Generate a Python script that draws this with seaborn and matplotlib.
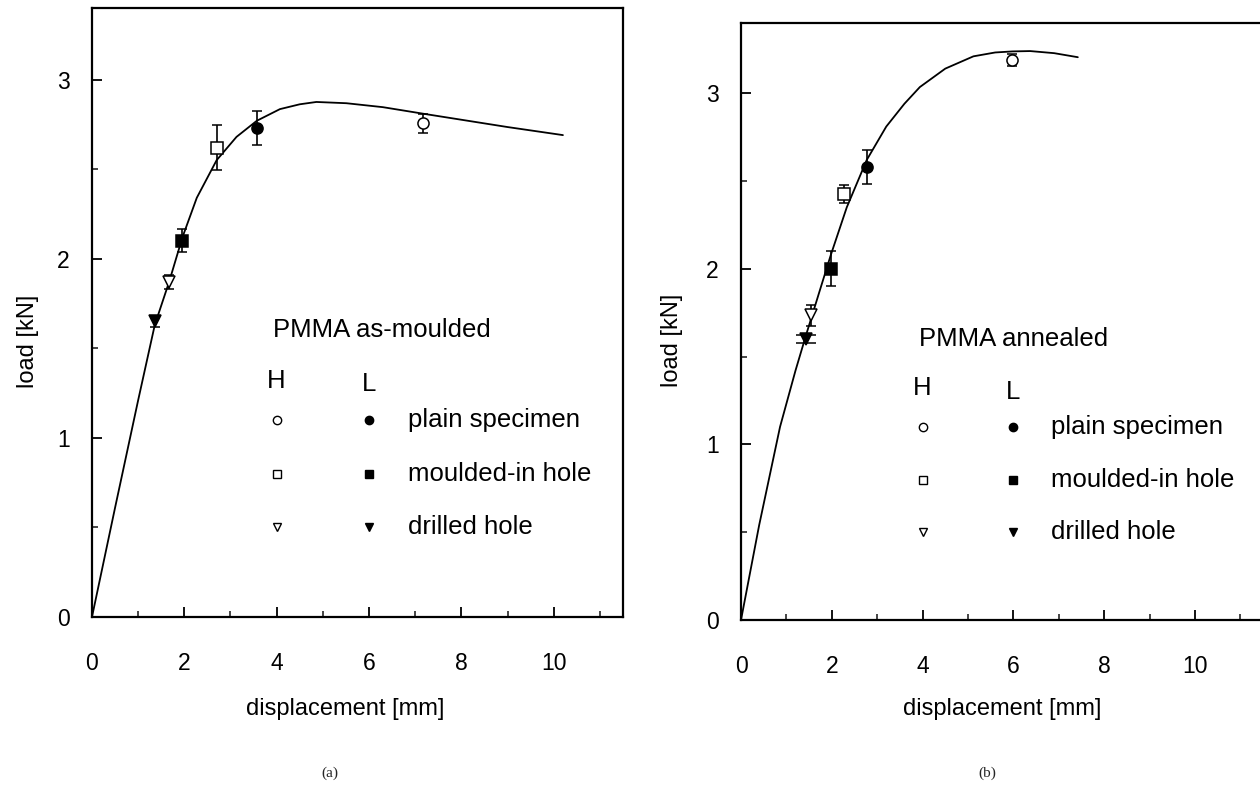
import matplotlib
matplotlib.use("Agg")
import matplotlib.pyplot as plt
import seaborn as sns
import pandas as pd
from matplotlib.ticker import MultipleLocator

sns.set_theme(style="ticks")
plt.rcParams['font.family'] = ['Liberation Sans', 'DejaVu Sans']

# ---------------- data ----------------
specimen_types = ["plain", "plain", "moulded", "moulded", "drilled", "drilled"]
specimen_groups = ["H", "L", "H", "L", "H", "L"]
legend_labels = ["plain specimen", "moulded-in hole", "drilled hole"]

# (a) PMMA as-moulded
curve_a_x = [0, 0.5, 1.0, 1.36, 1.67, 1.96, 2.27, 2.70, 3.13, 3.57, 4.07, 4.50, 4.86, 5.51, 6.30, 7.16, 7.97, 9.0, 10.2]
curve_a_y = [0, 0.61, 1.21, 1.63, 1.87, 2.12, 2.34, 2.55, 2.68, 2.77, 2.835, 2.862, 2.875, 2.868, 2.846, 2.81, 2.777, 2.735, 2.69]
pts_a_x = [7.16, 3.57, 2.70, 1.96, 1.67, 1.36]
pts_a_y = [2.755, 2.73, 2.62, 2.10, 1.87, 1.65]
pts_a_err = [0.055, 0.095, 0.125, 0.065, 0.04, 0.03]

# (b) PMMA annealed
curve_b_x = [0, 0.4, 0.86, 1.2, 1.43, 1.74, 1.98, 2.33, 2.77, 3.2, 3.6, 3.94, 4.5, 5.12, 5.6, 5.98, 6.37, 6.9, 7.42]
curve_b_y = [0, 0.54, 1.10, 1.42, 1.62, 1.88, 2.08, 2.35, 2.62, 2.81, 2.94, 3.035, 3.14, 3.21, 3.232, 3.238, 3.24, 3.228, 3.205]
pts_b_x = [5.98, 2.77, 2.27, 1.98, 1.535, 1.43]
pts_b_y = [3.19, 2.58, 2.425, 2.00, 1.736, 1.60]
pts_b_err = [0.035, 0.095, 0.05, 0.10, 0.06, 0.025]

x_ticks = [0, 2, 4, 6, 8, 10]
y_ticks = [0, 1, 2, 3]

# ---------------- styles ----------------
marker_of = {"plain": "o", "moulded": "s", "drilled": "v"}
size_of = {"plain": 8, "moulded": 8.5, "drilled": 8}
LEG_FS = 18.5
LAB_FS = 17
TICK_FS = 16.5


def draw_panel(ax, cx, cy, px, py, perr, title, wide_cap_idx=None):
    sns.lineplot(x=cx, y=cy, ax=ax, color="black", lw=1.3, sort=False, estimator=None)
    for i, (x, y, e) in enumerate(zip(px, py, perr)):
        t = specimen_types[i]
        g = specimen_groups[i]
        face = "white" if g == "H" else "black"
        cap = 7 if (wide_cap_idx is not None and i == wide_cap_idx) else 3.8
        ax.errorbar(x, y, yerr=e, fmt=marker_of[t], mfc=face, mec="black",
                    ms=size_of[t], mew=1.1, ecolor="black", elinewidth=1.2,
                    capsize=cap, capthick=1.2, zorder=3)
    ax.set_xlim(0, 11.5)
    ax.set_ylim(0, 3.4)
    ax.set_xticks(x_ticks)
    ax.set_yticks(y_ticks)
    ax.xaxis.set_minor_locator(MultipleLocator(1))
    ax.yaxis.set_minor_locator(MultipleLocator(0.5))
    ax.tick_params(axis="both", which="major", direction="in", length=7, width=1.3,
                   labelsize=TICK_FS, colors="black")
    ax.tick_params(axis="both", which="minor", direction="in", length=4, width=1.2)
    ax.tick_params(axis="x", which="major", pad=25)
    ax.tick_params(axis="y", which="major", pad=16)
    for s in ax.spines.values():
        s.set_visible(True)
        s.set_linewidth(1.6)
        s.set_color("black")
    ax.set_xlabel("displacement [mm]", fontsize=LAB_FS, color="black")
    ax.set_ylabel("load [kN]", fontsize=LAB_FS, color="black")
    # inner legend
    ax.text(3.92, 1.60, title, fontsize=LEG_FS, va="center", ha="left", color="black")
    ax.text(4.0, 1.32, "H", fontsize=LEG_FS, va="center", ha="center", color="black")
    ax.text(6.0, 1.30, "L", fontsize=LEG_FS, va="center", ha="center", color="black")
    rows_y = [1.10, 0.80, 0.50]
    for t, lab, ry in zip(["plain", "moulded", "drilled"], legend_labels, rows_y):
        ax.plot([4.0], [ry], marker=marker_of[t], mfc="white", mec="black", ms=6, mew=1.0, ls="none")
        ax.plot([6.0], [ry], marker=marker_of[t], mfc="black", mec="black", ms=6, mew=1.0, ls="none")
        ax.text(6.84, ry, lab, fontsize=LEG_FS, va="center", ha="left", color="black")


fig = plt.figure(figsize=(12.6, 7.92), dpi=100)
fig.patch.set_facecolor("white")
axA = fig.add_axes([0.073, 0.221, 0.4214, 0.769])
axB = fig.add_axes([0.5881, 0.2172, 0.4143, 0.7538])
for a in (axA, axB):
    a.set_facecolor("white")

draw_panel(axA, curve_a_x, curve_a_y, pts_a_x, pts_a_y, pts_a_err, "PMMA as-moulded")
draw_panel(axB, curve_b_x, curve_b_y, pts_b_x, pts_b_y, pts_b_err, "PMMA annealed", wide_cap_idx=5)

axA.xaxis.set_label_coords(0.476, -0.133)
axA.yaxis.set_label_coords(-0.100, 0.452)
axB.xaxis.set_label_coords(0.50, -0.130)
axB.yaxis.set_label_coords(-0.111, 0.469)

fig.text(330 / 1260, 1 - 773 / 792, "(a)", fontsize=11, family="Liberation Serif", ha="center", va="center")
fig.text(987 / 1260, 1 - 773 / 792, "(b)", fontsize=11, family="Liberation Serif", ha="center", va="center")

fig.savefig("out.png", dpi=100, facecolor="white")
